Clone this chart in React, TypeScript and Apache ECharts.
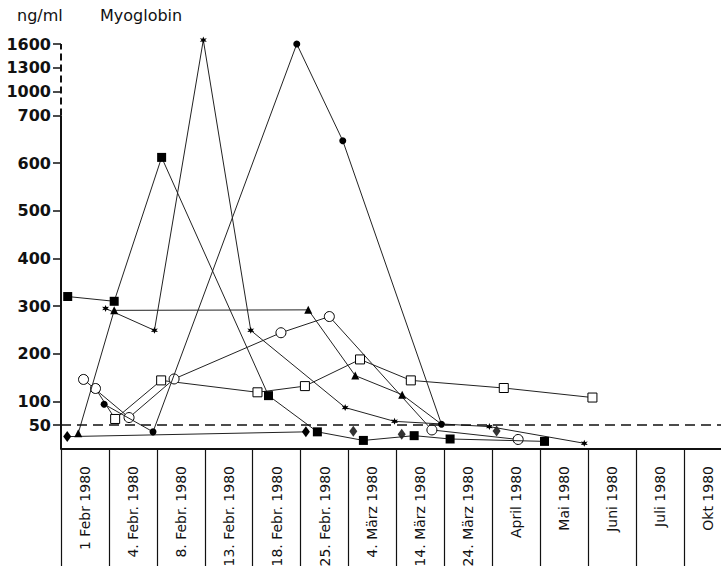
import React, { useEffect, useRef } from "react";
import * as echarts from "echarts";

const categories = [
  "1 Febr 1980",
  "4. Febr. 1980",
  "8. Febr. 1980",
  "13. Febr. 1980",
  "18. Febr. 1980",
  "25. Febr. 1980",
  "4. März 1980",
  "14. März 1980",
  "24. März 1980",
  "April 1980",
  "Mai 1980",
  "Juni 1980",
  "Juli 1980",
  "Okt 1980",
];

const yTickValues = [50, 100, 200, 300, 400, 500, 600, 700, 1000, 1300, 1600];

// [position in category units, ng/ml]
const filledSquare = [[0.14, 320], [1.11, 310], [2.1, 612], [4.33, 112], [5.35, 36], [6.31, 18], [7.37, 28], [8.12, 21], [10.09, 16]];
const asterisk = [[0.93, 295], [1.95, 249], [2.97, 1650], [3.96, 249], [5.93, 87], [6.96, 58], [8.94, 47], [10.92, 12]];
const filledCircle = [[0.9, 94], [1.92, 36], [4.92, 1600], [5.88, 647], [7.94, 52]];
const triangle = [[0.36, 33], [1.11, 291], [5.16, 292], [6.14, 154], [7.12, 114], [7.94, 52]];
const openCircle = [[0.47, 146], [1.42, 66], [2.36, 147], [4.59, 244], [5.6, 278], [7.74, 40], [9.54, 20]];
const openSquare = [[0.72, 127], [1.13, 63], [2.09, 144], [4.1, 119], [5.09, 132], [6.24, 188], [7.3, 144], [9.24, 128], [11.09, 108]];
const diamondLine = [[0.13, 26], [5.11, 36]];
const diamondSingle = [[6.1, 37], [7.11, 31], [9.09, 38]];
const referenceLevel = 50;

// broken scale: linear up to 700, compressed 6:1 above
const BREAK = 700;
const tf = (v: number) => (v <= BREAK ? v : BREAK + (v - BREAK) / 6);
const inv = (t: number) => (t <= BREAK ? t : BREAK + (t - BREAK) * 6);

const FONT = "DejaVu Sans";
const INK = "#111";

function starPath() {
  const pts: string[] = [];
  const n = 6;
  for (let i = 0; i < n * 2; i++) {
    const r = i % 2 === 0 ? 10 : 4.5;
    const a = (Math.PI * i) / n - Math.PI / 2;
    pts.push(`${(r * Math.cos(a) + 10).toFixed(2)} ${(r * Math.sin(a) + 10).toFixed(2)}`);
  }
  return "path://M" + pts.join(" L") + " Z";
}
const STAR = starPath();

const toPts = (arr: number[][]) => arr.map(([x, y]) => [x, tf(y)]);

const lineStyle = { color: "#222", width: 1 };

export default function App() {
  const ref = useRef<HTMLDivElement>(null);

  useEffect(() => {
    if (!ref.current) return;
    const chart = echarts.init(ref.current, null, { renderer: "svg" });
    const yTicks = yTickValues.map(tf);
    const labelPos = categories.map((_, i) => i + 0.5);

    const option: any = {
      animation: false,
      backgroundColor: "#fff",
      title: [
        { text: "ng/ml", left: 17, top: 7, padding: 0, textStyle: { fontFamily: FONT, fontSize: 16, fontWeight: "normal", color: INK } },
        { text: "Myoglobin", left: 100, top: 7, padding: 0, textStyle: { fontFamily: FONT, fontSize: 16, fontWeight: "normal", color: INK } },
      ],
      grid: {
        left: 61,
        top: 44,
        width: 14 * 47.92,
        height: 405,
        containLabel: false,
        outerBoundsMode: "none",
      },
      xAxis: {
        type: "value",
        min: 0,
        max: 14,
        interval: 1,
        axisLine: { show: true, lineStyle: { color: INK, width: 2 } },
        axisTick: { show: true, inside: false, length: 120, lineStyle: { color: INK, width: 1.2 } },
        axisLabel: {
          customValues: labelPos,
          rotate: 90,
          align: "right",
          verticalAlign: "middle",
          margin: 17,
          padding: [6, 0, 0, 0],
          fontFamily: FONT,
          fontSize: 14,
          color: INK,
          formatter: (v: number) => categories[Math.floor(v)],
        },
        splitLine: { show: false },
      },
      yAxis: {
        type: "value",
        min: 0,
        max: 850,
        interval: 50,
        axisLine: { show: false },
        axisTick: { show: true, customValues: yTicks, length: 8, lineStyle: { color: INK, width: 1.5 } },
        axisLabel: {
          customValues: yTicks,
          margin: 10,
          fontFamily: FONT,
          fontSize: 16,
          fontWeight: "bold",
          color: INK,
          formatter: (v: number) => String(Math.round(inv(v))),
        },
        splitLine: { show: false },
      },
      series: [
        {
          type: "line",
          data: toPts(diamondLine),
          symbol: "diamond",
          symbolSize: [8, 11],
          itemStyle: { color: "#000" },
          lineStyle,
        },
        {
          type: "scatter",
          data: toPts(diamondSingle),
          symbol: "diamond",
          symbolSize: [8, 11],
          itemStyle: { color: "#000" },
          clip: false,
          markLine: {
            silent: true,
            symbol: "none",
            label: { show: false },
            data: [
              [
                { coord: [0, 0], lineStyle: { color: INK, width: 2, type: "solid" } },
                { coord: [0, tf(700)] },
              ],
              [
                { coord: [0, tf(700)], lineStyle: { color: INK, width: 2, type: [7, 4] } },
                { coord: [0, tf(1600)] },
              ],
              { yAxis: referenceLevel, lineStyle: { color: INK, width: 1.5, type: [10, 6] } },
            ],
          },
        },
        {
          type: "line",
          data: toPts(openSquare).map((p, i) =>
            i === 0 ? { value: p, symbol: "circle", symbolSize: 10 } : p
          ),
          symbol: "rect",
          symbolSize: 9,
          itemStyle: { color: "#fff", borderColor: "#000", borderWidth: 1 },
          lineStyle,
          z: 3,
        },
        {
          type: "line",
          data: toPts(openCircle),
          symbol: "circle",
          symbolSize: 10,
          itemStyle: { color: "#fff", borderColor: "#000", borderWidth: 1 },
          lineStyle,
          z: 3,
        },
        {
          type: "line",
          data: toPts(triangle).map((p, i, a) => (i === a.length - 1 ? { value: p, symbol: "none" } : p)),
          symbol: "triangle",
          symbolSize: 8,
          itemStyle: { color: "#000" },
          lineStyle,
          z: 4,
        },
        {
          type: "line",
          data: toPts(filledCircle),
          symbol: "circle",
          symbolSize: 7,
          itemStyle: { color: "#000" },
          lineStyle,
          clip: false,
          z: 4,
        },
        {
          type: "line",
          data: toPts(asterisk),
          symbol: STAR,
          symbolSize: 7,
          itemStyle: { color: "#000" },
          lineStyle,
          clip: false,
          z: 4,
        },
        {
          type: "line",
          data: toPts(filledSquare),
          symbol: "rect",
          symbolSize: 9,
          itemStyle: { color: "#000" },
          lineStyle,
          z: 4,
        },
      ],
    };
    chart.setOption(option);
    return () => chart.dispose();
  }, []);

  return (
    <div
      ref={ref}
      style={{ position: "absolute", left: 0, top: 0, width: 721, height: 566 }}
    />
  );
}
